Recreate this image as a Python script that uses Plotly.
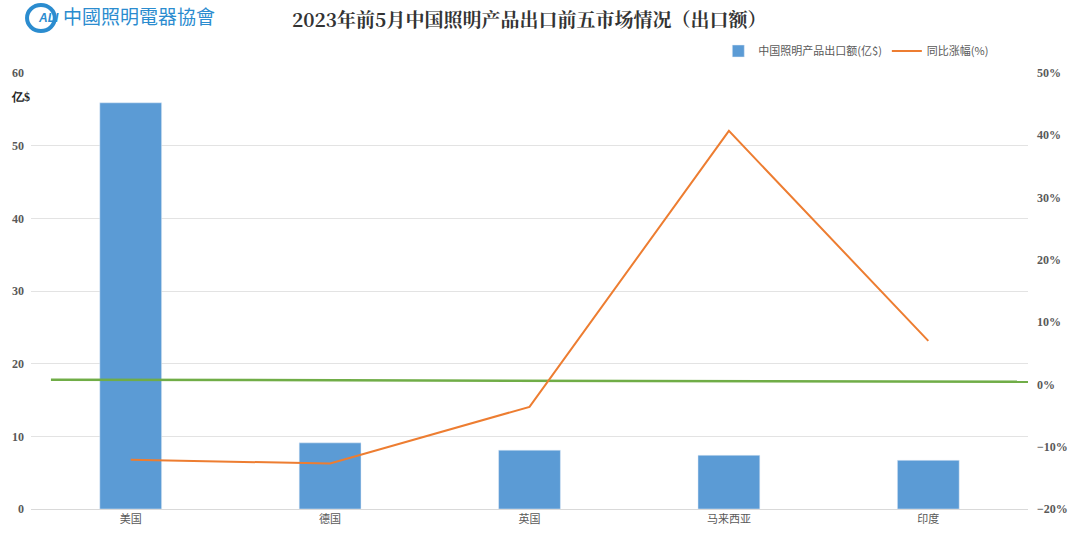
import plotly.graph_objects as go

categories = ["美国", "德国", "英国", "马来西亚", "印度"]
export_value = [55.9, 9.1, 8.1, 7.4, 6.7]          # 亿$
yoy_growth = [-12.1, -12.7, -3.6, 40.7, 7.0]        # %
trend_x = [-0.4, 4.5]
trend_y = [17.8, 17.5]

x_pos = list(range(len(categories)))
tick_font = dict(family="Liberation Serif, DejaVu Serif, serif", size=12, color="#595959",
                 weight="bold")

fig = go.Figure()
fig.add_trace(go.Bar(
    x=x_pos, y=export_value, name="中国照明产品出口额(亿$)",
    marker=dict(color="#5b9bd5"), width=0.31, yaxis="y"))
fig.add_trace(go.Scatter(
    x=x_pos, y=yoy_growth, name="同比涨幅(%)", mode="lines",
    line=dict(color="#ed7d31", width=2), yaxis="y2"))
fig.add_trace(go.Scatter(
    x=trend_x, y=trend_y, mode="lines", showlegend=False, hoverinfo="skip",
    line=dict(color="#70ad47", width=2.5), yaxis="y"))

W, L, R, T, B = 1080, 28, 46, 73, 31
PW = W - L - R
PH = 540 - T - B


def px(x):
    return (x - L) / PW


def py(y):
    return (540 - B - y) / PH


fig.update_layout(
    width=1080, height=540,
    margin=dict(l=L, r=R, t=T, b=B),
    paper_bgcolor="white", plot_bgcolor="white",
    font=dict(family="Noto Sans CJK SC", color="#595959"),
    showlegend=True,
    legend=dict(orientation="h", x=px(1000), xanchor="right", y=py(51), yanchor="middle",
                font=dict(family="Noto Sans CJK SC", size=11, color="#595959"),
                bgcolor="rgba(0,0,0,0)"),
    xaxis=dict(range=[-0.5, 4.5], tickmode="array", tickvals=x_pos, ticktext=categories,
               showgrid=False, zeroline=False, showline=True, linecolor="#d9d9d9", linewidth=1,
               ticks="", tickfont=dict(family="Noto Sans CJK SC", size=11, color="#595959")),
    yaxis=dict(range=[0, 60], dtick=10, showgrid=True, gridcolor="#e3e3e3", gridwidth=1,
               zeroline=False, showline=False, ticks="", tickfont=tick_font, ticklabelstandoff=6),
    yaxis2=dict(range=[-20, 50], dtick=10, overlaying="y", side="right", showgrid=False,
                zeroline=False, showline=False, ticksuffix="%", ticks="", tickfont=tick_font,
                ticklabelstandoff=8),
)

# title
fig.add_annotation(text="<b>2023年前5月中国照明产品出口前五市场情况（出口额）</b>",
                   xref="paper", yref="paper", x=px(530), y=py(18),
                   xanchor="center", yanchor="middle", showarrow=False,
                   font=dict(family="Noto Serif CJK SC, Noto Sans CJK SC", size=19, color="#333333"))
# unit label
fig.add_annotation(text="<b>亿$</b>", xref="paper", yref="paper",
                   x=px(6), y=py(97), xanchor="left", yanchor="middle", showarrow=False,
                   font=dict(family="Liberation Serif, serif", size=12, color="#222222"))
# logo
fig.add_shape(type="circle", xref="paper", yref="paper",
              x0=px(24), x1=px(52), y0=py(31), y1=py(5),
              line=dict(color="#2b8ccf", width=4), fillcolor="rgba(0,0,0,0)")
fig.add_annotation(text="<b><i>ALI</i></b>", xref="paper", yref="paper",
                   x=px(33), y=py(18), xanchor="left", yanchor="middle",
                   showarrow=False,
                   font=dict(family="Liberation Sans, sans-serif", size=12, color="#2b8ccf"))
fig.add_annotation(text="中國照明電器協會", xref="paper", yref="paper",
                   x=px(58), y=py(16), xanchor="left", yanchor="middle",
                   showarrow=False,
                   font=dict(family="Noto Sans CJK TC", size=19, color="#2b8ccf"))

fig.write_html("out.html")
